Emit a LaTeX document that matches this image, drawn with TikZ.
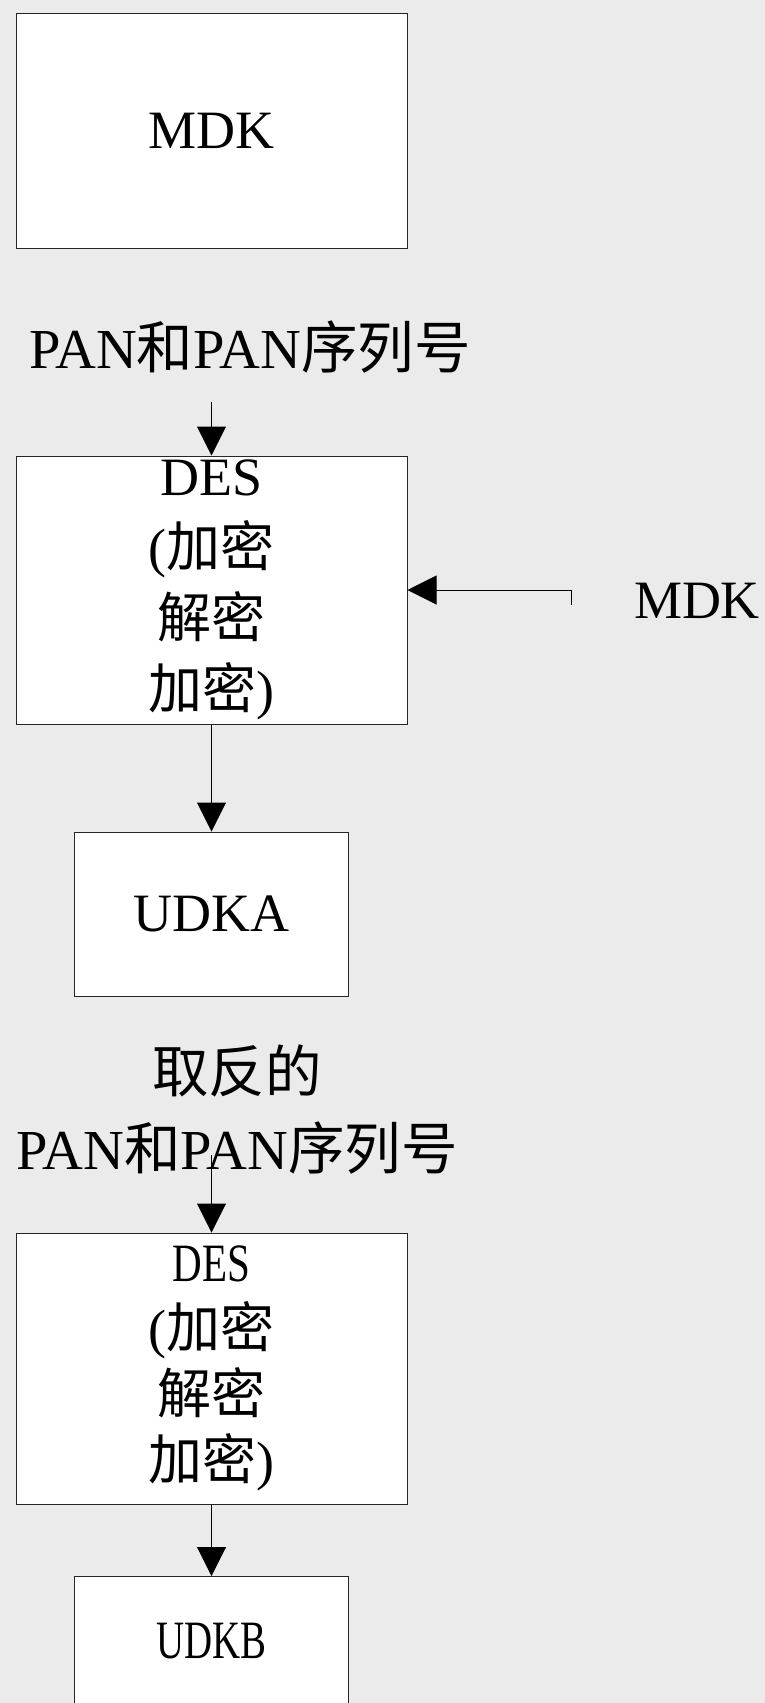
\documentclass[tikz,border=0pt]{standalone}
\usepackage{fontspec}
\setmainfont{Liberation Serif}
\newfontfamily\cjk{Noto Sans CJK SC}
\usetikzlibrary{arrows.meta}
\definecolor{bg}{RGB}{235,235,235}
\begin{document}
\begin{tikzpicture}[x=1pt,y=-1pt,
  box/.style={draw=black!85, line width=1pt, fill=white, inner sep=0pt, align=center},
  arr/.style={draw=black, line width=1pt, -{Triangle[length=29pt,width=29pt]}},
  txt/.style={inner sep=0pt, align=center},
  bigA/.style={font=\fontsize{54}{71}\selectfont},
  bigB/.style={font=\fontsize{54}{66}\selectfont},
  bigL/.style={font=\fontsize{56.5}{77}\selectfont}
]
\useasboundingbox[fill=bg] (0,0) rectangle (765,1703);

\node[box, bigA, minimum width=391pt, minimum height=235pt] (mdk) at (211.5,130.5) {MDK};
\node[txt, bigL] (pan1) at (250,347) {PAN{\cjk 和}PAN{\cjk 序列号}};
\coordinate (a1) at (211.5,402);
\node[box, bigA, minimum width=391pt, minimum height=268pt] (des1) at (211.5,590)
  {DES\\({\cjk 加密}\\{\cjk 解密}\\{\cjk 加密})};
\node[txt, bigA] (mdk2) at (697,601) {MDK};
\coordinate (m) at (571,605);
\node[box, bigA, minimum width=274pt, minimum height=164pt] (udka) at (211.5,914) {UDKA};

\node[txt, bigL] (pan2) at (237,1110) {{\cjk 取反的}\\PAN{\cjk 和}PAN{\cjk 序列号}};
\coordinate (a2) at (211.5,1155);
\node[box, bigB, minimum width=391pt, minimum height=271pt] (des2) at (211.5,1368.5)
  {\scalebox{0.76}[1]{DES}\\({\cjk 加密}\\{\cjk 解密}\\{\cjk 加密})};
\node[box, bigB, minimum width=274pt, minimum height=130pt, anchor=north] (udkb) at (211.5,1576)
  {\scalebox{0.72}[1]{UDKB}};

\draw[arr] (a1) -- (des1.north);
\draw[arr] (m) |- (des1.east);
\draw[arr] (des1.south) -- (udka.north);
\draw[arr] (a2) -- (des2.north);
\draw[arr] (des2.south) -- (udkb.north);
\end{tikzpicture}
\end{document}
